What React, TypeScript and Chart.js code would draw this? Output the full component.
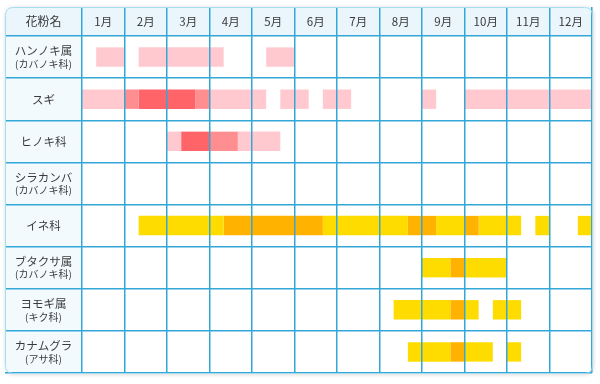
import React, { useEffect, useRef } from 'react';
import { Chart, registerables } from 'chart.js';

Chart.register(...registerables);

const months = ['1月', '2月', '3月', '4月', '5月', '6月', '7月', '8月', '9月', '10月', '11月', '12月'];
const headerLabel = '花粉名';
const pollenNames = ['ハンノキ属', 'スギ', 'ヒノキ科', 'シラカンバ', 'イネ科', 'ブタクサ属', 'ヨモギ属', 'カナムグラ'];
const pollenFamilies = ['(カバノキ科)', '', '', '(カバノキ科)', '', '(カバノキ科)', '(キク科)', '(アサ科)'];

// intensity per 10-day period (上旬・中旬・下旬 for each month); 0 = none
const alder = [0, 1, 1, 0, 1, 1, 1, 1, 1, 1, 0, 0, 0, 1, 1, 0, 0, 0, 0, 0, 0, 0, 0, 0, 0, 0, 0, 0, 0, 0, 0, 0, 0, 0, 0, 0];
const cedar = [1, 1, 1, 2, 3, 3, 3, 3, 2, 1, 1, 1, 1, 0, 1, 1, 0, 1, 1, 0, 0, 0, 0, 0, 1, 0, 0, 1, 1, 1, 1, 1, 1, 1, 1, 1];
const cypress = [0, 0, 0, 0, 0, 0, 1, 3, 3, 2, 2, 1, 1, 1, 0, 0, 0, 0, 0, 0, 0, 0, 0, 0, 0, 0, 0, 0, 0, 0, 0, 0, 0, 0, 0, 0];
const birch = [0, 0, 0, 0, 0, 0, 0, 0, 0, 0, 0, 0, 0, 0, 0, 0, 0, 0, 0, 0, 0, 0, 0, 0, 0, 0, 0, 0, 0, 0, 0, 0, 0, 0, 0, 0];
const grass = [0, 0, 0, 0, 1, 1, 1, 1, 1, 1, 2, 2, 2, 2, 2, 2, 2, 1, 1, 1, 1, 1, 1, 2, 2, 1, 1, 2, 1, 1, 1, 0, 1, 0, 0, 1];
const ragweed = [0, 0, 0, 0, 0, 0, 0, 0, 0, 0, 0, 0, 0, 0, 0, 0, 0, 0, 0, 0, 0, 0, 0, 0, 1, 1, 2, 1, 1, 1, 0, 0, 0, 0, 0, 0];
const mugwort = [0, 0, 0, 0, 0, 0, 0, 0, 0, 0, 0, 0, 0, 0, 0, 0, 0, 0, 0, 0, 0, 0, 1, 1, 1, 1, 2, 1, 0, 1, 1, 0, 0, 0, 0, 0];
const hop = [0, 0, 0, 0, 0, 0, 0, 0, 0, 0, 0, 0, 0, 0, 0, 0, 0, 0, 0, 0, 0, 0, 0, 1, 1, 1, 2, 1, 1, 0, 1, 0, 0, 0, 0, 0];

const rowLevels = [alder, cedar, cypress, birch, grass, ragweed, mugwort, hop];
const rowIsTree = [true, true, true, true, false, false, false, false];

const treeColors = ['#ffc9cf', '#ff8e91', '#ff6469'];
const grassColors = ['#ffdc00', '#ffb300'];

const FONT = '"Noto Sans CJK JP", "Noto Sans", sans-serif';

function buildDatasets() {
  const rowSegments = rowLevels.map((arr) => {
    const segs: { start: number; end: number; level: number }[] = [];
    let i = 0;
    while (i < arr.length) {
      const lv = arr[i];
      if (!lv) { i++; continue; }
      let j = i;
      while (j < arr.length && arr[j] === lv) j++;
      segs.push({ start: i, end: j, level: lv });
      i = j;
    }
    return segs;
  });
  const maxSegs = Math.max(...rowSegments.map((s) => s.length));
  const datasets: any[] = [];
  for (let k = 0; k < maxSegs; k++) {
    datasets.push({
      data: rowSegments.map((s) => (s[k] ? [s[k].start, s[k].end] : null)),
      backgroundColor: rowSegments.map((s, r) =>
        s[k] ? (rowIsTree[r] ? treeColors : grassColors)[s[k].level - 1] : 'rgba(0,0,0,0)'
      ),
      borderWidth: 0,
      borderSkipped: false,
      grouped: false,
      barPercentage: 0.46,
      categoryPercentage: 1,
      xAxisID: 'xv',
      yAxisID: 'y',
    });
  }
  return datasets;
}

function roundRectPath(ctx: CanvasRenderingContext2D, x: number, y: number, w: number, h: number, r: number) {
  ctx.beginPath();
  ctx.moveTo(x + r, y);
  ctx.lineTo(x + w - r, y);
  ctx.quadraticCurveTo(x + w, y, x + w, y + r);
  ctx.lineTo(x + w, y + h - r);
  ctx.quadraticCurveTo(x + w, y + h, x + w - r, y + h);
  ctx.lineTo(x + r, y + h);
  ctx.quadraticCurveTo(x, y + h, x, y + h - r);
  ctx.lineTo(x, y + r);
  ctx.quadraticCurveTo(x, y, x + r, y);
  ctx.closePath();
}

const tablePlugin = {
  id: 'tableDecor',
  beforeDraw(chart: any) {
    const { ctx, chartArea } = chart;
    const ys = chart.scales.y;
    const xs = chart.scales.x;
    const left = ys.left;
    const top = xs.top;
    const w = chartArea.right - left;
    const h = chartArea.bottom - top;
    ctx.save();
    ctx.shadowColor = 'rgba(0,0,0,0.22)';
    ctx.shadowBlur = 4;
    ctx.shadowOffsetX = 1;
    ctx.shadowOffsetY = 1;
    roundRectPath(ctx, left, top, w, h, 8);
    ctx.fillStyle = '#ffffff';
    ctx.fill();
    ctx.shadowColor = 'rgba(0,0,0,0)';
    ctx.clip();
    ctx.fillStyle = '#eaf6fc';
    ctx.fillRect(left, top, w, chartArea.top - top);
    ctx.fillStyle = '#f3fafe';
    ctx.fillRect(left, chartArea.top, ys.right - left, chartArea.bottom - chartArea.top);
    ctx.restore();
  },
  afterDraw(chart: any) {
    const { ctx, chartArea } = chart;
    const ys = chart.scales.y;
    const xs = chart.scales.x;
    const cx = (ys.left + ys.right) / 2;
    ctx.save();
    ctx.fillStyle = '#3a3a3a';
    ctx.textAlign = 'center';
    ctx.textBaseline = 'middle';
    ctx.font = `12px ${FONT}`;
    ctx.fillText(headerLabel, cx, (xs.top + chartArea.top) / 2);
    pollenNames.forEach((name, i) => {
      const cy = ys.getPixelForValue(i);
      if (pollenFamilies[i]) {
        ctx.font = `11.5px ${FONT}`;
        ctx.fillText(name, cx, cy - 6);
        ctx.font = `10px ${FONT}`;
        ctx.fillText(pollenFamilies[i], cx, cy + 7);
      } else {
        ctx.font = `11.5px ${FONT}`;
        ctx.fillText(name, cx, cy);
      }
    });
    // outer border
    roundRectPath(ctx, ys.left + 0.5, xs.top + 0.5, chartArea.right - ys.left, chartArea.bottom - xs.top, 8);
    ctx.strokeStyle = '#a9dcef';
    ctx.lineWidth = 1;
    ctx.stroke();
    ctx.restore();
  },
};

export default function App() {
  const canvasRef = useRef<HTMLCanvasElement | null>(null);

  useEffect(() => {
    document.body.style.margin = '0';
    const canvas = canvasRef.current;
    if (!canvas) return;
    const gridColor = '#33a8d8';
    const chart = new Chart(canvas, {
      type: 'bar',
      data: {
        labels: pollenNames,
        datasets: buildDatasets(),
      },
      plugins: [tablePlugin],
      options: {
        indexAxis: 'y',
        animation: false,
        responsive: false,
        events: [],
        layout: { padding: { top: 7, left: 5, right: 8, bottom: 11 } },
        plugins: {
          legend: { display: false },
          tooltip: { enabled: false },
          title: { display: false },
        },
        scales: {
          xv: {
            type: 'linear',
            axis: 'x',
            position: 'top',
            display: false,
            min: 0,
            max: 36,
          },
          x: {
            type: 'category',
            position: 'top',
            labels: months,
            offset: true,
            grid: {
              offset: true,
              color: gridColor,
              lineWidth: 1.5,
              z: 1,
              drawTicks: true,
              tickLength: 29,
              tickColor: gridColor,
              tickWidth: 1.5,
            },
            border: { display: false },
            ticks: {
              color: '#3a3a3a',
              font: { family: FONT, size: 11.5 },
              padding: -14.5,
              crossAlign: 'center',
              maxRotation: 0,
              autoSkip: false,
            },
            afterFit(scale: any) {
              scale.height = 29;
            },
          },
          y: {
            type: 'category',
            position: 'left',
            labels: pollenNames,
            offset: true,
            grid: {
              offset: true,
              color: gridColor,
              lineWidth: 1.5,
              z: 1,
              drawTicks: true,
              tickLength: 77,
              tickColor: gridColor,
              tickWidth: 1.5,
            },
            border: { display: false },
            ticks: { display: false },
            afterFit(scale: any) {
              scale.width = 77;
            },
          },
        },
      } as any,
    });
    return () => chart.destroy();
  }, []);

  return (
    <div style={{ width: 600, height: 384 }}>
      <canvas ref={canvasRef} width={600} height={384} style={{ display: 'block' }} />
    </div>
  );
}
